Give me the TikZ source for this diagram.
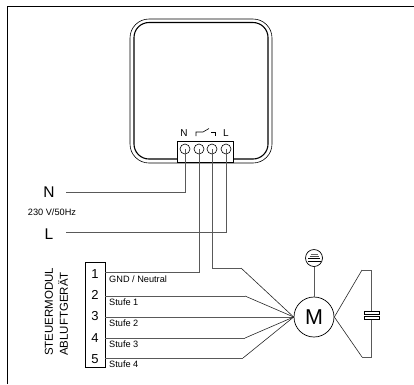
\documentclass[tikz,border=0pt]{standalone}
\usepackage{fontspec}
\setmainfont{Liberation Sans}
\usepackage{tikz}
\usetikzlibrary{positioning,calc}
\tikzset{
  wire/.style={draw=black!65,line width=0.9pt},
  thinline/.style={draw=black!85,line width=0.6pt},
  terminal/.style={circle,draw,line width=0.6pt,minimum size=10pt,inner sep=0pt},
  pinno/.style={font=\fontsize{13}{13}\selectfont,inner sep=0pt},
  wirelabel/.style={font=\fontsize{9.2}{10}\selectfont,anchor=west,inner sep=0pt},
  sidelabel/.style={font=\fontsize{11.5}{12}\selectfont,rotate=90,anchor=west,inner sep=0pt},
  bigletter/.style={font=\fontsize{15.5}{16}\selectfont,inner sep=0pt}
}
\begin{document}
\begin{tikzpicture}[x=1pt,y=-1pt]
    \useasboundingbox (0,0) rectangle (414,384);
    \coordinate (frameA) at (7,384); \coordinate (frameB) at (7,6); \coordinate (frameC) at (414,6);
    \draw[line width=0.7pt] (frameA) -- (frameB) -- (frameC);
    % housing
    \draw[line width=0.6pt,rounded corners=19pt] (130,19) rectangle (272,163);
    \draw[line width=1.1pt,rounded corners=15pt] (134,22.5) rectangle (268,159);
    % terminal block
    \node[draw,fill=white,line width=0.7pt,minimum width=56pt,minimum height=21pt,inner sep=0pt] (block) at (205,151.5) {};
    \foreach \ii/\xx in {1/185,2/199,3/212,4/226}
        \node[terminal] (t\ii) at (\xx,149) {};
    \node[font=\fontsize{10}{10}\selectfont,inner sep=0pt] (lblN) at (184,133) {N};
    \node[font=\fontsize{10}{10}\selectfont,inner sep=0pt] (lblL) at (226,133) {L};
    \draw[line width=0.6pt] (196,136) -- (196,132) -- (203,132) -- (209,128.5);
    \draw[line width=0.6pt] (211,132) -- (215,132) -- (215,136);
    % mains
    \node[bigletter] (mainsN) at (49,192) {N};
    \node[bigletter] (mainsL) at (49,234) {L};
    \node[font=\fontsize{9.2}{10}\selectfont,inner sep=0pt] (volt) at (52,212) {230 V/50Hz};
    \coordinate (nEnd) at (66,192);
    \coordinate (lEnd) at (66,232);
    \draw[wire] (t1.center) |- (nEnd);
    \draw[wire] (t4.center) |- (lEnd);
    % module
    \node[draw,line width=0.7pt,minimum width=20pt,minimum height=105pt,inner sep=0pt] (module) at (95,314.5) {};
    \foreach \ii/\yy in {1/274,2/295,3/316,4/338,5/359}
        \node[pinno] (pin\ii) at (95,\yy) {\ii};
    \node[sidelabel] (sideA) at (49,356) {STEUERMODUL};
    \node[sidelabel] (sideB) at (63,356) {ABLUFTGERÄT};
    \node[wirelabel] (gnd) at (109,279) {GND / Neutral};
    \foreach \ii/\yy in {1/302,2/323,3/344,4/364}
        \node[wirelabel] (st\ii) at (109,\yy) {Stufe \ii};
    % motor
    \node[circle,draw,line width=0.7pt,minimum size=40pt,inner sep=0pt,font=\fontsize{21.5}{22}\selectfont] (motor) at (314,317) {M};
    \coordinate (m1) at (105,272);
    \coordinate (k1) at (241,268);
    \coordinate (m2) at (105,296);
    \coordinate (k2) at (245,296);
    \coordinate (m3) at (105,317);
    \coordinate (m4) at (105,338);
    \coordinate (k4) at (245,338);
    \coordinate (m5) at (105,358);
    \coordinate (k5) at (243,358);
    \draw[wire] (t2.center) |- (m1);
    \draw[wire] (t3.center) |- (k1);
    \draw[wire] (m2) -- (k2);
    \draw[wire] (m3) -- (motor.west);
    \draw[wire] (m4) -- (k4);
    \draw[wire] (m5) -- (k5);
    \foreach \kk in {k1,k2,k4,k5}
        \draw[thinline] (\kk) -- (motor.west);
    % fan
    \node[circle,draw,line width=0.7pt,minimum size=17pt,inner sep=0pt] (fan) at (314,258) {};
    \draw[wire] (fan) -- (motor);
    \draw[line width=0.5pt,black!60] (310.5,254) -- (317.5,254);
    \draw[line width=0.7pt,black!70] (309.5,256) -- (318.5,256);
    \draw[line width=0.7pt] (308,258.5) -- (320,258.5);
    \draw[line width=0.7pt] (307.5,261) -- (320.5,261);
    % capacitor
    \coordinate (c1) at (362,270);
    \coordinate (c2) at (371,270);
    \coordinate (c3) at (371,357);
    \coordinate (c4) at (362,357);
    \node[draw,fill=white,line width=0.7pt,minimum width=15pt,minimum height=3.5pt,inner sep=0pt] (capA) at (371.5,313) {};
    \node[draw,fill=white,line width=0.7pt,minimum width=15pt,minimum height=3.5pt,inner sep=0pt] (capB) at (371.5,318) {};
    \draw[thinline] (motor.east) -- (c1);
    \draw[thinline] (motor.east) -- (c4);
    \draw[wire] (c1) -- (c2) -- (capA.north -| c2);
    \draw[wire] (c4) -- (c3) -- (capB.south -| c3);
\end{tikzpicture}
\end{document}
